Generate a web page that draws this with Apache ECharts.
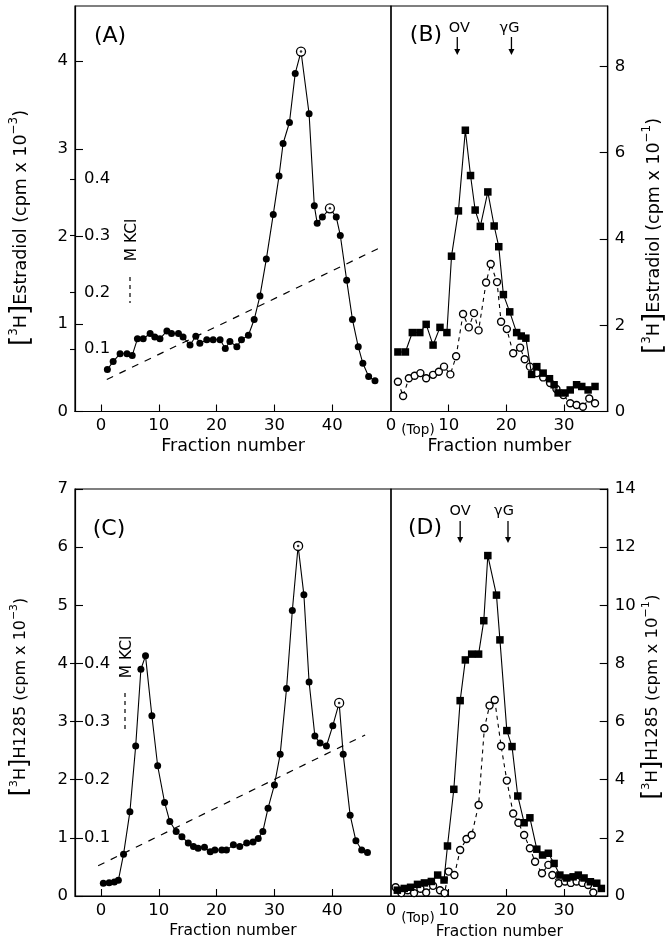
<!DOCTYPE html>
<html>
<head>
<meta charset="UTF-8">
<title>Fraction profiles</title>
<script src="https://cdn.jsdelivr.net/npm/echarts@6/dist/echarts.min.js"></script>
<style>
  html, body { margin: 0; padding: 0; background: #fff; }
  #chart { width: 670px; height: 948px; }
</style>
</head>
<body>
<div id="chart"></div>
<script>
// (A) [3H]estradiol, gradient fractions
var fracA = [1.1,2.1,3.3,4.5,5.4,6.3,7.3,8.5,9.3,10.2,11.4,12.2,13.4,14.2,15.4,16.4,17.1,18.3,19.4,20.6,
  21.5,22.3,23.5,24.3,25.5,26.5,27.5,28.6,29.8,30.8,31.5,32.6,33.6,34.6,36.0,36.9,37.4,38.3,39.6,40.7,
  41.4,42.5,43.5,44.5,45.3,46.3,47.4];
var estA = [0.48,0.57,0.66,0.66,0.64,0.83,0.83,0.89,0.85,0.83,0.92,0.89,0.89,0.85,0.76,0.86,0.78,0.82,0.82,0.82,
  0.72,0.80,0.74,0.82,0.87,1.05,1.32,1.74,2.25,2.69,3.06,3.30,3.86,4.11,3.40,2.35,2.15,2.22,2.32,2.22,
  2.01,1.50,1.05,0.74,0.55,0.40,0.35];
var peaksA = [33, 38];
var kclFracA = [1.0, 48.1];
var kclA = [0.046, 0.278];

// (B) sucrose gradient, estradiol
var fracBsq = [1.2,2.5,3.7,5.0,6.1,7.3,8.5,9.7,10.5,11.7,12.9,13.8,14.6,15.5,16.8,17.9,18.7,19.5,
  20.6,21.8,22.6,23.4,24.4,25.3,26.4,27.5,28.3,29.0,30.2,31.1,32.2,33.1,34.2,35.4];
var estBsq = [1.38,1.38,1.83,1.83,2.02,1.54,1.95,1.83,3.60,4.65,6.52,5.47,4.67,4.29,5.09,4.30,3.82,2.71,
  2.31,1.83,1.75,1.70,0.86,1.04,0.89,0.76,0.62,0.43,0.43,0.50,0.62,0.58,0.50,0.58];
var fracBci = [1.2,2.1,3.1,4.1,5.1,6.1,7.3,8.3,9.2,10.3,11.3,12.5,13.5,14.4,15.2,16.5,17.3,18.4,19.1,20.1,
  21.2,22.4,23.2,24.1,25.3,26.4,27.6,28.7,29.9,31.1,32.2,33.3,34.4,35.4];
var estBci = [0.69,0.36,0.77,0.83,0.89,0.77,0.85,0.92,1.04,0.86,1.28,2.26,1.95,2.28,1.88,2.99,3.42,3.00,2.08,1.91,
  1.35,1.48,1.21,1.04,0.89,0.79,0.66,0.52,0.38,0.19,0.15,0.11,0.30,0.19];
var markersB = { 'OV': 11.5, 'γG': 20.9 };

// (C) [3H]H1285, gradient fractions
var fracC = [0.4,1.4,2.3,3.0,3.9,5.0,6.0,6.9,7.7,8.8,9.8,11.0,11.9,13.0,14.0,15.1,16.0,16.8,17.9,18.9,
  19.7,20.9,21.7,22.9,24.0,25.2,26.3,27.2,28.0,28.9,30.0,31.0,32.1,33.1,34.1,35.1,36.0,37.0,37.9,39.0,
  40.1,41.2,41.9,43.1,44.1,45.1,46.1];
var h1285C = [0.22,0.23,0.24,0.27,0.72,1.45,2.58,3.90,4.13,3.10,2.24,1.61,1.28,1.11,1.02,0.91,0.85,0.82,0.84,0.76,
  0.79,0.79,0.79,0.88,0.85,0.91,0.93,0.99,1.11,1.51,1.91,2.44,3.57,4.91,6.02,5.18,3.68,2.75,2.63,2.58,
  2.93,3.32,2.44,1.39,0.95,0.79,0.75];
var peaksC = [34, 41];
var kclFracC = [-0.5, 45.7];
var kclC = [0.052, 0.277];

// (D) sucrose gradient, H1285
var fracDsq = [1.1,2.3,3.4,4.6,5.8,7.0,8.1,9.2,9.8,10.9,12.0,12.9,14.0,15.2,16.1,16.8,18.3,18.9,20.1,21.0,
  22.0,23.1,24.1,25.3,26.3,27.3,28.3,29.3,30.5,31.6,32.5,33.5,34.6,35.7,36.5];
var h1285Dsq = [0.20,0.26,0.30,0.40,0.45,0.50,0.72,0.55,1.72,3.67,6.72,8.12,8.32,8.32,9.47,11.71,10.35,8.81,5.69,5.14,
  3.44,2.52,2.69,1.61,1.41,1.47,1.12,0.72,0.62,0.66,0.72,0.62,0.49,0.44,0.26];
var fracDci = [0.8,1.8,2.9,4.0,5.1,6.1,7.3,8.5,9.3,10.0,11.0,12.0,13.1,14.0,15.2,16.2,17.1,18.0,19.1,20.1,
  21.2,22.1,23.1,24.1,25.0,26.2,27.3,28.0,29.1,30.2,31.2,32.2,33.2,34.2,35.1];
var h1285Dci = [0.30,0.10,0.20,0.10,0.25,0.12,0.35,0.20,0.10,0.84,0.72,1.58,1.96,2.10,3.13,5.77,6.55,6.74,5.16,3.97,
  2.84,2.52,2.10,1.64,1.18,0.78,1.07,0.72,0.44,0.50,0.45,0.50,0.45,0.38,0.12];
var markersD = { 'OV': 12.0, 'γG': 20.3 };

var gradTicks = [0, 10, 20, 30, 40];
var sucroseTicks = [0, 10, 20, 30];
var kclTicks = [0.1, 0.2, 0.3, 0.4];

var FONT = 'DejaVu Sans';
var INK = '#000';
var TICK_FONT = 16.5;

function pairs(xs, ys) {
  return xs.map(function (x, i) { return [x, ys[i]]; });
}

function dotLine(xs, ys, peaks, ai) {
  return {
    type: 'line', xAxisIndex: ai.x, yAxisIndex: ai.y, z: 3,
    symbol: 'circle', symbolSize: 7,
    itemStyle: { color: INK },
    lineStyle: { color: INK, width: 1.1 },
    data: xs.map(function (x, i) {
      if (peaks.indexOf(i) >= 0) {
        return { value: [x, ys[i]], symbolSize: 9,
          itemStyle: { color: '#fff', borderColor: INK, borderWidth: 1.3 } };
      }
      return [x, ys[i]];
    })
  };
}

function peakDots(xs, ys, peaks, ai) {
  return {
    type: 'scatter', xAxisIndex: ai.x, yAxisIndex: ai.y, z: 5,
    symbol: 'circle', symbolSize: 2.5, itemStyle: { color: INK },
    data: peaks.map(function (i) { return [xs[i], ys[i]]; })
  };
}

function squareLine(xs, ys, ai) {
  return {
    type: 'line', xAxisIndex: ai.x, yAxisIndex: ai.y, z: 4,
    symbol: 'rect', symbolSize: 7.5,
    itemStyle: { color: INK },
    lineStyle: { color: INK, width: 1.1 },
    data: pairs(xs, ys)
  };
}

function circleLine(xs, ys, ai) {
  return {
    type: 'line', xAxisIndex: ai.x, yAxisIndex: ai.y, z: 3,
    symbol: 'circle', symbolSize: 7, showSymbol: true,
    itemStyle: { color: '#fff', borderColor: INK, borderWidth: 1.4 },
    lineStyle: { color: INK, width: 1.1, type: [4, 4] },
    data: pairs(xs, ys)
  };
}

function kclLine(xs, ys, ai) {
  return {
    type: 'line', xAxisIndex: ai.x, yAxisIndex: ai.y, z: 2,
    symbol: 'none', silent: true,
    lineStyle: { color: INK, width: 1.2, type: [7, 7] },
    data: pairs(xs, ys)
  };
}

function xAxisCfg(grid, min, max, labels, ticks, gap, nameSize) {
  return {
    type: 'value', gridIndex: grid, min: min, max: max,
    axisLine: { show: true, onZero: false, lineStyle: { color: INK, width: 1.2 } },
    axisTick: { show: true, inside: true, length: 7, customValues: ticks, lineStyle: { color: INK, width: 1.1 } },
    axisLabel: { customValues: labels, color: INK, fontFamily: FONT, fontSize: TICK_FONT, margin: 6 },
    splitLine: { show: false },
    name: 'Fraction number', nameLocation: 'middle', nameGap: gap,
    nameTextStyle: { color: INK, fontFamily: FONT, fontSize: nameSize, verticalAlign: 'top' }
  };
}

function yAxisCfg(grid, pos, min, max, ticks) {
  return {
    type: 'value', gridIndex: grid, position: pos, min: min, max: max,
    axisLine: { show: true, onZero: false, lineStyle: { color: INK, width: 1.2 } },
    axisTick: { show: true, inside: true, length: 8, customValues: ticks, lineStyle: { color: INK, width: 1.1 } },
    axisLabel: { customValues: ticks, color: INK, fontFamily: FONT, fontSize: TICK_FONT, margin: 7 },
    splitLine: { show: false }
  };
}

function kclAxisCfg(grid, min, max) {
  return {
    type: 'value', gridIndex: grid, position: 'left', min: min, max: max,
    axisLine: { show: false, onZero: false },
    axisTick: { show: true, inside: false, length: 5, customValues: kclTicks, lineStyle: { color: INK, width: 1.1 } },
    axisLabel: { inside: true, customValues: kclTicks, color: INK, fontFamily: FONT, fontSize: TICK_FONT, margin: 9,
      formatter: function (v) { return v.toFixed(1); } },
    splitLine: { show: false }
  };
}

var gridBox = { show: true, borderColor: INK, borderWidth: 1.2, backgroundColor: 'transparent' };

var option = {
  backgroundColor: '#fff',
  animation: false,
  grid: [
    Object.assign({ left: 75, top: 6, width: 316, height: 405.5 }, gridBox),
    Object.assign({ left: 391, top: 6, width: 216.7, height: 405.5 }, gridBox),
    Object.assign({ left: 75, top: 489, width: 316, height: 407 }, gridBox),
    Object.assign({ left: 391, top: 489, width: 216.7, height: 407 }, gridBox)
  ],
  xAxis: [
    xAxisCfg(0, -4.5, 50.17, gradTicks, gradTicks, 26, 17.5),
    xAxisCfg(1, 0, 37.6, sucroseTicks, [10, 20, 30], 26, 17.5),
    xAxisCfg(2, -4.5, 50.17, gradTicks, gradTicks, 27, 15.5),
    xAxisCfg(3, 0, 37.6, sucroseTicks, [10, 20, 30], 28, 15.5)
  ],
  yAxis: [
    yAxisCfg(0, 'left', 0, 4.63, [0, 1, 2, 3, 4]),
    kclAxisCfg(0, -0.0106, 0.706),
    yAxisCfg(1, 'right', 0, 9.4, [0, 2, 4, 6, 8]),
    yAxisCfg(2, 'left', 0, 7, [0, 1, 2, 3, 4, 5, 6, 7]),
    kclAxisCfg(2, 0, 0.7),
    yAxisCfg(3, 'right', 0, 14, [0, 2, 4, 6, 8, 10, 12, 14])
  ],
  series: [
    kclLine(kclFracA, kclA, { x: 0, y: 1 }),
    dotLine(fracA, estA, peaksA, { x: 0, y: 0 }),
    peakDots(fracA, estA, peaksA, { x: 0, y: 0 }),
    circleLine(fracBci, estBci, { x: 1, y: 2 }),
    squareLine(fracBsq, estBsq, { x: 1, y: 2 }),
    kclLine(kclFracC, kclC, { x: 2, y: 4 }),
    dotLine(fracC, h1285C, peaksC, { x: 2, y: 3 }),
    peakDots(fracC, h1285C, peaksC, { x: 2, y: 3 }),
    circleLine(fracDci, h1285Dci, { x: 3, y: 5 }),
    squareLine(fracDsq, h1285Dsq, { x: 3, y: 5 })
  ]
};

var chart = echarts.init(document.getElementById('chart'), null, { renderer: 'canvas' });
chart.setOption(option);

// annotations
function txt(x, y, text, size, extra) {
  var el = { type: 'text', x: x, y: y, z: 10,
    style: { text: text, fill: INK, fontFamily: FONT, fontSize: size, align: 'center', verticalAlign: 'middle' } };
  return Object.assign(el, extra || {});
}

function yTitle(x, y, name, exp, size) {
  return {
    type: 'text', x: x, y: y, rotation: Math.PI / 2, z: 10,
    style: {
      text: '{br|[}{sup|3}{t|H}{br|]}{t|' + name + ' (cpm x 10}{sup|' + exp + '}{t|)}',
      align: 'center', verticalAlign: 'middle',
      rich: {
        t: { fontSize: size, fontFamily: FONT, fill: INK, verticalAlign: 'middle' },
        br: { fontSize: size * 1.5, fontFamily: FONT, fill: INK, verticalAlign: 'middle' },
        sup: { fontSize: size * 0.68, fontFamily: FONT, fill: INK, verticalAlign: 'top' }
      }
    }
  };
}

function arrow(x, y1, y2) {
  return [
    { type: 'line', z: 10, shape: { x1: x, y1: y1, x2: x, y2: y2 - 4 }, style: { stroke: INK, lineWidth: 1.3 } },
    { type: 'polygon', z: 10, shape: { points: [[x - 3, y2 - 6], [x + 3, y2 - 6], [x, y2]] }, style: { fill: INK } }
  ];
}

function kclKey(x, yText, yDash1, yDash2) {
  return [
    txt(x, yText, 'M KCl', 15.5, { rotation: Math.PI / 2 }),
    { type: 'line', z: 10, shape: { x1: x - 2, y1: yDash1, x2: x - 2, y2: yDash2 },
      style: { stroke: INK, lineWidth: 1.2, lineDash: [4, 4] } }
  ];
}

var xB = function (f) { return chart.convertToPixel({ xAxisIndex: 1 }, f); };
var xD = function (f) { return chart.convertToPixel({ xAxisIndex: 3 }, f); };

var g = [];
g.push(txt(110, 36, '(A)', 22), txt(426, 35, '(B)', 22), txt(109, 529, '(C)', 22), txt(425, 528, '(D)', 22));
g = g.concat(kclKey(132, 240, 277, 303), kclKey(127, 657, 693, 730));
g.push(yTitle(21, 228, 'Estradiol', '−3', 17.5));
g.push(yTitle(21, 697, 'H1285', '−3', 16));
g.push(yTitle(654, 236, 'Estradiol', '−1', 17.5));
g.push(yTitle(653, 697, 'H1285', '−1', 16.5));
g.push(txt(418, 430, '(Top)', 13.5), txt(418, 918, '(Top)', 13.5));

Object.keys(markersB).forEach(function (k, i) {
  var x = xB(markersB[k]);
  g.push(txt(x + (i === 0 ? 2 : -2), 28, k, 14.5));
  g = g.concat(arrow(x, 37, 55));
});
Object.keys(markersD).forEach(function (k, i) {
  var x = xD(markersD[k]);
  g.push(txt(x + (i === 0 ? 0 : -4), 511, k, 14.5));
  g = g.concat(arrow(x, 521, 543));
});

chart.setOption({ graphic: g });
</script>
</body>
</html>
